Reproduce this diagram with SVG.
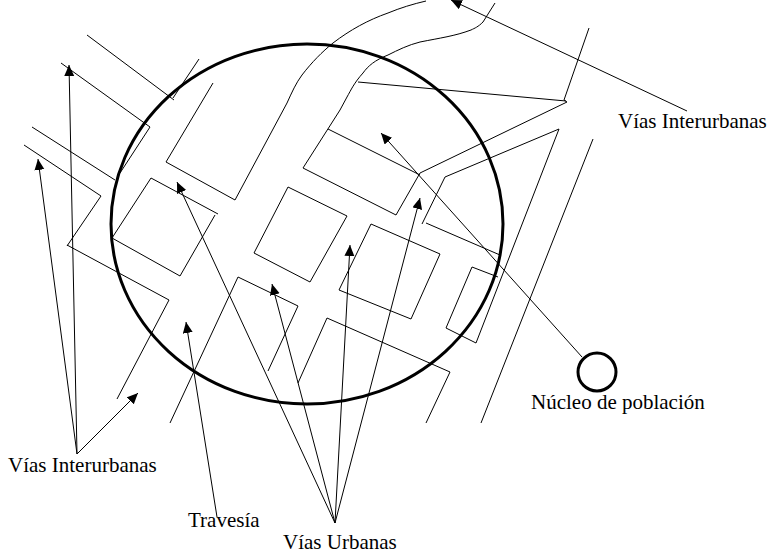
<svg xmlns="http://www.w3.org/2000/svg" width="776" height="560" viewBox="0 0 776 560">
<style>
.r{fill:none;stroke:#000;stroke-width:1}
.a{fill:none;stroke:#000;stroke-width:1;marker-end:url(#h)}
.c{fill:none;stroke:#000;stroke-width:3}
text{font-family:"Liberation Serif","Times New Roman",serif;font-size:21px;fill:#000}
</style>
<defs>
<marker id="h" markerUnits="userSpaceOnUse" markerWidth="13" markerHeight="11" refX="11" refY="5" orient="auto">
<path d="M0 0L11 5L0 10Z" fill="#000"/>
</marker>
</defs>
<rect width="776" height="560" fill="#fff"/>
<g id="calles">
<path class="r" d="M87 35L174 100M199 59L173 98"/>
<path class="r" d="M61 63L150 127L120 173"/>
<path class="r" d="M32 127L115 180"/>
<path class="r" d="M24 145L101 196L67 246M67 245L169 300L117 399"/>
<path class="r" d="M213 83L166 162L235 200L287 103C292 92 296 83 302 75C312 62 322 52 333 43C350 30 368 20 388 13C400 8 413 4 426 1"/>
<path class="r" d="M495 3L483 22C478 27 475 28 471 30C455 36 440 38 420 42C408 45 398 50 388 55C375 60 368 66 363 73C354 83 351 90 347 97L340 110L303 168L396 215L420 173L567 102L564 100L589 28"/>
<path class="r" d="M358 82L566 101"/>
<path class="r" d="M328 129L420 175"/>
<path class="r" d="M422 224L445 177L559 129L476 343L446 328L472 267L498 277"/>
<path class="r" d="M426 223L500 255"/>
<path class="r" d="M593 139L481 423"/>
<path class="r" d="M371 224L440 254L411 319L339 290Z"/>
<path class="r" d="M288 187L347 216L310 282L254 253Z"/>
<path class="r" d="M218 214L151 178L112 238L180 276L215 215"/>
<path class="r" d="M170 423L238 277L298 306L268 371"/>
<path class="r" d="M298 383L327 318L450 372L426 423"/>
</g>
<g id="conectores">
<path class="a" d="M77 454L69 65"/>
<path class="a" d="M77 454L38 159"/>
<path class="a" d="M77 454L138 393"/>
<path class="a" d="M217 517L186 322"/>
<path class="a" d="M335 523L177 182"/>
<path class="a" d="M335 523L272 284"/>
<path class="a" d="M335 523L350 245"/>
<path class="a" d="M335 523L420 198"/>
<path class="a" d="M687 111L451 0"/>
<path class="a" d="M582 357L381 133"/>
</g>
<g id="nucleo-grande"><ellipse class="c" cx="307" cy="224" rx="196" ry="180"/></g>
<g id="nucleo-pequeno"><circle class="c" cx="597" cy="372" r="19"/></g>
<g id="t1"><text x="8" y="472">Vías Interurbanas</text></g>
<g id="t2"><text x="618" y="128">Vías Interurbanas</text></g>
<g id="t3"><text x="188" y="527">Travesía</text></g>
<g id="t4"><text x="283" y="549">Vías Urbanas</text></g>
<g id="t5"><text x="531" y="409">Núcleo de población</text></g>
</svg>
